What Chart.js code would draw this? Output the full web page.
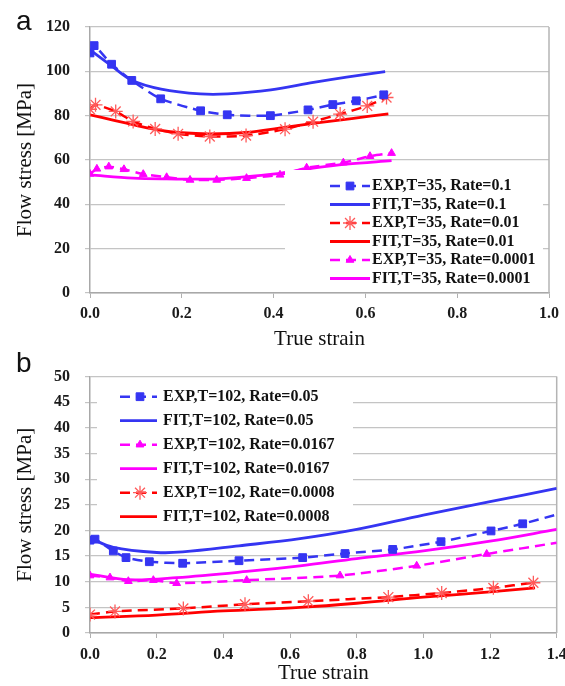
<!DOCTYPE html>
<html>
<head>
<meta charset="utf-8">
<script src="https://cdn.jsdelivr.net/npm/chart.js@4.4.1/dist/chart.umd.min.js"></script>
<style>
  html, body { margin: 0; padding: 0; background: #fff; overflow: hidden; }
  #page { position: relative; width: 565px; height: 686px; }
  .panel { position: absolute; left: 0; width: 565px; }
  #panel-a { top: 0; height: 352px; }
  #panel-b { top: 352px; height: 334px; }
  .tag { position: absolute; font: 28px "Liberation Sans", Arial, sans-serif; line-height: 1; color: #111; }
</style>
</head>
<body>
<div id="page">
  <div class="panel" id="panel-a"><canvas id="chartA"></canvas></div>
  <div class="panel" id="panel-b"><canvas id="chartB"></canvas></div>
  <div class="tag" style="left:16px;top:7px">a</div>
  <div class="tag" style="left:16px;top:349px">b</div>
</div>
<script>
// ---- panel a : T=35 ----
const aStrainTicks = [0, 0.2, 0.4, 0.6, 0.8, 1.0];
const aStressTicks = [0, 20, 40, 60, 80, 100, 120];
const aLabels = [
  "EXP,T=35, Rate=0.1", "FIT,T=35, Rate=0.1",
  "EXP,T=35, Rate=0.01", "FIT,T=35, Rate=0.01",
  "EXP,T=35, Rate=0.0001", "FIT,T=35, Rate=0.0001",
];
const aExp1Strain = [0.0, 0.009, 0.047, 0.091, 0.154, 0.241, 0.299, 0.393, 0.475, 0.529, 0.580, 0.640];
const aExp1Stress = [108.3, 111.6, 103.2, 95.9, 87.6, 82.2, 80.4, 80.0, 82.6, 85.0, 86.7, 89.4];
const aFit1Strain = [0.0, 0.045, 0.091, 0.155, 0.240, 0.300, 0.394, 0.487, 0.559, 0.643];
const aFit1Stress = [109.7, 102.8, 96.0, 92.0, 89.8, 89.8, 91.6, 95.0, 97.4, 99.9];
const aExp2Strain = [0.0, 0.012, 0.056, 0.094, 0.142, 0.192, 0.261, 0.340, 0.425, 0.486, 0.545, 0.604, 0.646];
const aExp2Stress = [82.9, 84.9, 81.9, 77.4, 74.0, 71.8, 70.6, 71.0, 73.9, 77.3, 80.7, 84.4, 88.2];
const aFit2Strain = [0.0, 0.05, 0.10, 0.15, 0.20, 0.26, 0.34, 0.42, 0.49, 0.57, 0.65];
const aFit2Stress = [80.4, 78.0, 75.6, 73.5, 72.3, 71.8, 72.4, 74.6, 76.6, 78.7, 80.8];
const aExp3Strain = [0.0, 0.015, 0.041, 0.074, 0.116, 0.167, 0.218, 0.276, 0.341, 0.414, 0.472, 0.552, 0.610, 0.657];
const aExp3Stress = [53.7, 56.0, 57.0, 55.8, 53.6, 52.2, 51.0, 51.0, 51.8, 53.3, 56.5, 58.8, 61.7, 63.1];
const aFit3Strain = [0.0, 0.094, 0.167, 0.276, 0.414, 0.486, 0.559, 0.657];
const aFit3Stress = [53.3, 51.8, 51.5, 51.5, 54.0, 56.3, 58.1, 59.7];

// ---- panel b : T=102 ----
const bStrainTicks = [0, 0.2, 0.4, 0.6, 0.8, 1.0, 1.2, 1.4];
const bStressTicks = [0, 5, 10, 15, 20, 25, 30, 35, 40, 45, 50];
const bLabels = [
  "EXP,T=102, Rate=0.05", "FIT,T=102, Rate=0.05",
  "EXP,T=102, Rate=0.0167", "FIT,T=102, Rate=0.0167",
  "EXP,T=102, Rate=0.0008", "FIT,T=102, Rate=0.0008",
];
const bExp1Strain = [0.0, 0.015, 0.07, 0.108, 0.178, 0.278, 0.447, 0.638, 0.765, 0.908, 1.053, 1.203, 1.298, 1.4];
const bExp1Stress = [18.1, 18.3, 16.0, 14.7, 13.9, 13.6, 14.1, 14.7, 15.5, 16.3, 17.8, 19.9, 21.3, 23.1];
const bFit1Strain = [0.0, 0.07, 0.2, 0.278, 0.447, 0.63, 0.8, 1.0, 1.2, 1.4];
const bFit1Stress = [18.5, 16.7, 15.7, 15.8, 17.0, 18.4, 20.2, 23.0, 25.6, 28.2];
const bExp2Strain = [0.0, 0.06, 0.115, 0.19, 0.26, 0.47, 0.75, 0.98, 1.19, 1.4];
const bExp2Stress = [11.2, 10.8, 10.1, 10.3, 9.7, 10.3, 11.2, 13.1, 15.4, 17.6];
const bFit2Strain = [0.0, 0.115, 0.26, 0.47, 0.63, 0.8, 1.0, 1.2, 1.4];
const bFit2Stress = [11.5, 10.4, 10.8, 12.0, 13.1, 14.5, 16.0, 17.9, 20.2];
const bExp3Strain = [0.0, 0.075, 0.28, 0.465, 0.655, 0.895, 1.055, 1.21, 1.33];
const bExp3Stress = [3.6, 4.2, 4.8, 5.6, 6.2, 7.0, 7.8, 8.8, 9.8];
const bFit3Strain = [0.0, 0.2, 0.4, 0.63, 0.8, 1.0, 1.2, 1.335];
const bFit3Stress = [3.0, 3.5, 4.3, 5.0, 5.8, 7.0, 8.0, 8.8];

const BLUE = "#3535f2";
const RED = "#ff0000";
const RED_MARK = "#ff5a5a";
const MAGENTA = "#ff00ff";
const SERIF = "'Liberation Serif', 'Times New Roman', serif";

Chart.defaults.font.family = SERIF;
Chart.defaults.color = "#1a1a1a";

const pts = (xs, ys) => xs.map((x, i) => ({ x, y: ys[i] }));

function expSet(label, xs, ys, color, marker, markColor, size, xEnd) {
  return {
    label,
    data: pts(xs, ys),
    showLine: true,
    borderColor: color,
    borderWidth: 2.5,
    borderDash: [10, 6],
    tension: 0.2,
    pointStyle: marker,
    markerSize: size,
    pointRadius: (c) => (c.raw && xEnd !== undefined && c.raw.x >= xEnd ? 0 : size),
    pointHoverRadius: 0,
    pointBackgroundColor: markColor,
    pointBorderColor: markColor,
    pointBorderWidth: marker === "star" ? 1.3 : 1,
  };
}

function fitSet(label, xs, ys, color) {
  return {
    label,
    data: pts(xs, ys),
    showLine: true,
    borderColor: color,
    borderWidth: 2.8,
    tension: 0.35,
    pointRadius: 0,
    pointHoverRadius: 0,
  };
}

// white legend box with line samples, plus right frame line
const boxLegend = {
  id: "boxLegend",
  beforeDatasetsDraw(chart) {
    const { ctx, chartArea } = chart;
    ctx.save();
    ctx.strokeStyle = "#b4b4b4";
    ctx.lineWidth = 1.5;
    ctx.beginPath();
    ctx.moveTo(chartArea.right, chartArea.top);
    ctx.lineTo(chartArea.right, chartArea.bottom);
    ctx.stroke();
    ctx.restore();
  },
  afterDatasetsDraw(chart, args, opts) {
    const ctx = chart.ctx;
    ctx.save();
    ctx.fillStyle = "#fff";
    ctx.fillRect(opts.box[0], opts.box[1], opts.box[2], opts.box[3]);
    ctx.font = "bold 16px " + SERIF;
    ctx.textBaseline = "middle";
    ctx.textAlign = "left";
    chart.data.datasets.forEach((ds, i) => {
      const y = opts.top + i * opts.step;
      ctx.strokeStyle = ds.borderColor;
      ctx.lineWidth = ds.borderWidth;
      ctx.setLineDash(ds.borderDash || []);
      ctx.beginPath();
      ctx.moveTo(opts.left, y);
      ctx.lineTo(opts.left + opts.width, y);
      ctx.stroke();
      ctx.setLineDash([]);
      if (ds.markerSize) {
        ctx.fillStyle = ds.pointBackgroundColor;
        ctx.strokeStyle = ds.pointBorderColor;
        ctx.lineWidth = ds.pointBorderWidth;
        Chart.helpers.drawPoint(
          ctx,
          { pointStyle: ds.pointStyle, radius: ds.markerSize, rotation: 0, borderWidth: ds.pointBorderWidth },
          opts.mark,
          y
        );
      }
      ctx.fillStyle = "#111";
      ctx.fillText(ds.label, opts.textX, y);
    });
    ctx.restore();
  },
};

function axes(strainTicks, stressTicks, xMax, yMax, xHeight, xPad) {
  const tickFont = { size: 16, weight: "bold", family: SERIF };
  const titleFont = { size: 21, family: SERIF };
  return {
    x: {
      type: "linear",
      min: 0,
      max: xMax,
      afterBuildTicks: (s) => { s.ticks = strainTicks.map((v) => ({ value: v })); },
      afterFit: (s) => { s.height = xHeight; s.paddingLeft = 0; s.paddingRight = 0; },
      ticks: { font: tickFont, padding: xPad, maxRotation: 0, callback: (v) => Number(v).toFixed(1) },
      grid: { drawOnChartArea: false, tickLength: 5, color: "#b0b0b0" },
      border: { color: "#a8a8a8", width: 1.5 },
      title: { display: true, text: "True strain", font: titleFont, color: "#111", padding: { top: 0, bottom: 0 } },
    },
    y: {
      min: 0,
      max: yMax,
      afterBuildTicks: (s) => { s.ticks = stressTicks.map((v) => ({ value: v })); },
      afterFit: (s) => { s.width = 90; },
      ticks: { font: tickFont, padding: 15 },
      grid: { color: "#c4c4c4", tickLength: 5, lineWidth: 1.2 },
      border: { color: "#a8a8a8", width: 1.5 },
      title: { display: true, text: "Flow stress [MPa]", font: titleFont, color: "#111", padding: { top: 13, bottom: 0 } },
    },
  };
}

function baseOptions(scales, legend, padding) {
  return {
    responsive: true,
    maintainAspectRatio: false,
    animation: false,
    events: [],
    layout: { padding },
    scales,
    plugins: { legend: { display: false }, tooltip: { enabled: false }, boxLegend: legend },
  };
}

new Chart(document.getElementById("chartA"), {
  type: "scatter",
  data: {
    datasets: [
      expSet(aLabels[0], aExp1Strain, aExp1Stress, BLUE, "rect", BLUE, 5.5),
      fitSet(aLabels[1], aFit1Strain, aFit1Stress, BLUE),
      expSet(aLabels[2], aExp2Strain, aExp2Stress, RED, "star", RED_MARK, 7),
      fitSet(aLabels[3], aFit2Strain, aFit2Stress, RED),
      expSet(aLabels[4], aExp3Strain, aExp3Stress, MAGENTA, "triangle", MAGENTA, 4.5),
      fitSet(aLabels[5], aFit3Strain, aFit3Stress, MAGENTA),
    ],
  },
  options: baseOptions(
    axes(aStrainTicks, aStressTicks, 1.0, 120, 59, 6),
    { box: [285, 170, 258, 121], top: 186, step: 18.5, left: 330, width: 40, mark: 350, textX: 372 },
    { left: 0, right: 16, top: 27, bottom: 0 }
  ),
  plugins: [boxLegend],
});

new Chart(document.getElementById("chartB"), {
  type: "scatter",
  data: {
    datasets: [
      expSet(bLabels[0], bExp1Strain, bExp1Stress, BLUE, "rect", BLUE, 5.5, 1.4),
      fitSet(bLabels[1], bFit1Strain, bFit1Stress, BLUE),
      expSet(bLabels[2], bExp2Strain, bExp2Stress, MAGENTA, "triangle", MAGENTA, 4.5, 1.4),
      fitSet(bLabels[3], bFit2Strain, bFit2Stress, MAGENTA),
      expSet(bLabels[4], bExp3Strain, bExp3Stress, RED, "star", RED_MARK, 7, 1.4),
      fitSet(bLabels[5], bFit3Strain, bFit3Stress, RED),
    ],
  },
  options: baseOptions(
    axes(bStrainTicks, bStressTicks, 1.4, 50, 53, 7),
    { box: [97, 32, 256, 143], top: 44.7, step: 24, left: 120, width: 37, mark: 140, textX: 163 },
    { left: 0, right: 8, top: 21, bottom: 0 }
  ),
  plugins: [boxLegend],
});
</script>
</body>
</html>
